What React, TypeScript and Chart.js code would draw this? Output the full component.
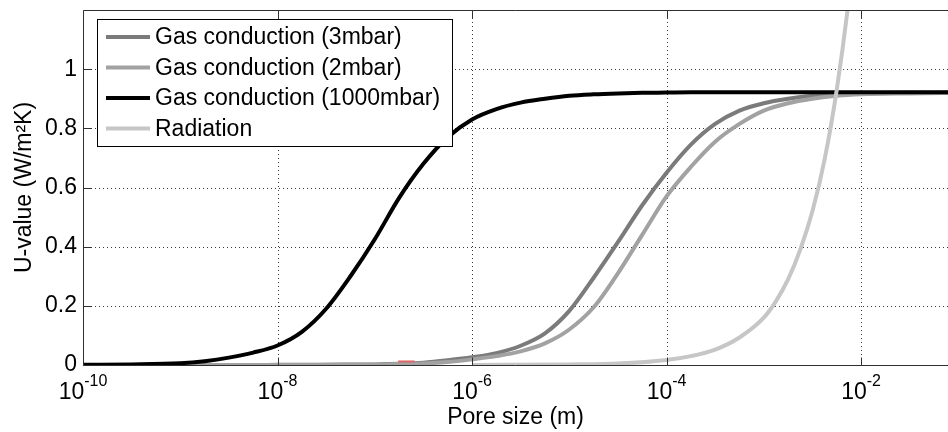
import React, { useEffect, useRef } from 'react';
import { Chart, registerables } from 'chart.js';

Chart.register(...registerables);

// ---- data ----
const poreSizes = [
  1e-10, 3.16e-10, 1e-9, 1.78e-9, 3.16e-9, 5.62e-9,
  1e-8, 1.78e-8, 3.16e-8, 5.62e-8,
  1e-7, 1.78e-7, 3.16e-7, 5.62e-7,
  1e-6, 1.78e-6, 3.16e-6, 5.62e-6,
  1e-5, 1.78e-5, 3.16e-5, 5.62e-5,
  1e-4, 1.78e-4, 3.16e-4, 5.62e-4,
  1e-3, 1.78e-3, 3.16e-3, 5.62e-3,
  1e-2, 3.16e-2, 1e-1,
];
const gas3mbar = [
  0, 0, 0, 0, 0, 0,
  0.0005, 0.0007, 0.001, 0.0015,
  0.002, 0.004, 0.008, 0.016,
  0.026, 0.04, 0.065, 0.107,
  0.183, 0.295, 0.415, 0.54,
  0.65, 0.745, 0.815, 0.86,
  0.885, 0.9, 0.91, 0.915,
  0.918, 0.92, 0.92,
];
const gas2mbar = [
  0, 0, 0, 0, 0, 0,
  0, 0, 0.0005, 0.0008,
  0.001, 0.003, 0.005, 0.01,
  0.019, 0.03, 0.046, 0.073,
  0.12, 0.195, 0.31, 0.44,
  0.57, 0.67, 0.755, 0.815,
  0.86, 0.885, 0.9, 0.91,
  0.915, 0.918, 0.92,
];
const gas1000mbar = [
  0.001, 0.002, 0.006, 0.013, 0.025, 0.042,
  0.066, 0.112, 0.19, 0.3,
  0.425, 0.565, 0.68, 0.77,
  0.83, 0.865, 0.887, 0.9,
  0.91, 0.915, 0.918, 0.92,
  0.921, 0.922, 0.922, 0.922,
  0.922, 0.922, 0.922, 0.922,
  0.922, 0.922, 0.922,
];
const radiationPoreSizes = [
  1e-6, 1e-5, 3.16e-5, 1e-4, 1.78e-4, 3.16e-4, 5.62e-4,
  1e-3, 1.33e-3, 1.78e-3, 2.37e-3, 3.16e-3, 4.22e-3, 5.62e-3, 7.5e-3, 1e-2,
];
const radiation = [
  0.0002, 0.002, 0.005, 0.017, 0.03, 0.052, 0.093,
  0.16, 0.215, 0.29, 0.39, 0.52, 0.695, 0.93, 1.24, 1.65,
];
const residualPoreSizes = [1.74e-7, 2.57e-7];
const residual = [0.012, 0.012];

const xTickValues = [1e-10, 1e-8, 1e-6, 1e-4, 1e-2];
const yTickValues = [0, 0.2, 0.4, 0.6, 0.8, 1];
const xMin = 1e-10;
const xMax = 0.0783;
const yMin = 0;
const yMax = 1.2;

const seriesLabels = [
  'Gas conduction (3mbar)',
  'Gas conduction (2mbar)',
  'Gas conduction (1000mbar)',
  'Radiation',
];
const seriesColors = ['#7b7b7b', '#a2a2a2', '#000000', '#c6c6c6'];

const FONT = "'Liberation Sans', Arial, Helvetica, sans-serif";

function toPoints(xs: number[], ys: number[]) {
  return xs.map((x, i) => ({ x, y: ys[i] }));
}

const framePlugin = {
  id: 'matlabFrame',
  beforeDatasetsDraw(chart: any) {
    const { ctx, chartArea } = chart;
    const xs = chart.scales.x;
    const ys = chart.scales.y;
    ctx.save();
    ctx.strokeStyle = '#3a3a3a';
    ctx.lineWidth = 1;
    ctx.setLineDash([1, 3]);
    for (const v of yTickValues) {
      if (v === yMin) continue;
      const py = Math.round(ys.getPixelForValue(v)) + 0.5;
      ctx.beginPath();
      ctx.moveTo(chartArea.left, py);
      ctx.lineTo(chartArea.right, py);
      ctx.stroke();
    }
    for (const v of xTickValues) {
      if (v === xMin) continue;
      const px = Math.round(xs.getPixelForValue(v)) + 0.5;
      ctx.beginPath();
      ctx.moveTo(px, chartArea.top);
      ctx.lineTo(px, chartArea.bottom);
      ctx.stroke();
    }
    ctx.restore();
  },
  afterDraw(chart: any) {
    const { ctx, chartArea } = chart;
    const xs = chart.scales.x;
    const ys = chart.scales.y;
    const L = Math.round(chartArea.left) + 0.5;
    const T = Math.round(chartArea.top) + 0.5;
    const B = Math.round(chartArea.bottom) + 0.5;
    const R = chartArea.right;
    ctx.save();
    ctx.setLineDash([]);
    ctx.strokeStyle = '#303030';
    ctx.lineWidth = 1;
    // frame
    ctx.beginPath();
    ctx.moveTo(R, T);
    ctx.lineTo(L, T);
    ctx.lineTo(L, B);
    ctx.lineTo(R, B);
    ctx.stroke();
    // inward ticks
    const tl = 8;
    for (const v of yTickValues) {
      const py = Math.round(ys.getPixelForValue(v)) + 0.5;
      ctx.beginPath();
      ctx.moveTo(L, py);
      ctx.lineTo(L + tl, py);
      ctx.stroke();
    }
    for (const v of xTickValues) {
      const px = Math.round(xs.getPixelForValue(v)) + 0.5;
      ctx.beginPath();
      ctx.moveTo(px, B);
      ctx.lineTo(px, B - tl);
      ctx.moveTo(px, T);
      ctx.lineTo(px, T + tl);
      ctx.stroke();
    }
    // x tick labels as 10^n
    ctx.fillStyle = '#000';
    ctx.textBaseline = 'alphabetic';
    ctx.textAlign = 'left';
    for (const v of xTickValues) {
      const px = xs.getPixelForValue(v);
      const exp = String(Math.round(Math.log10(v)));
      ctx.font = `23px ${FONT}`;
      const wBase = ctx.measureText('10').width;
      ctx.font = `16px ${FONT}`;
      const wExp = ctx.measureText(exp).width;
      const start = px - (wBase + wExp) / 2;
      ctx.font = `23px ${FONT}`;
      ctx.fillText('10', start, B + 33);
      ctx.font = `16px ${FONT}`;
      ctx.fillText(exp, start + wBase, B + 20);
    }
    // legend
    const lx = 97.5, ly = 19.5, lw = 355, lh = 127;
    ctx.fillStyle = '#fff';
    ctx.fillRect(lx, ly, lw, lh);
    ctx.strokeStyle = '#000';
    ctx.strokeRect(lx, ly, lw, lh);
    ctx.font = `23px ${FONT}`;
    ctx.textBaseline = 'middle';
    seriesLabels.forEach((label, i) => {
      const cy = 37 + i * 30.5;
      ctx.strokeStyle = seriesColors[i];
      ctx.lineWidth = 4;
      ctx.beginPath();
      ctx.moveTo(106, cy);
      ctx.lineTo(150, cy);
      ctx.stroke();
      ctx.fillStyle = '#000';
      ctx.fillText(label, 155, cy + 1);
    });
    ctx.restore();
  },
};

export default function App() {
  const canvasRef = useRef<HTMLCanvasElement | null>(null);

  useEffect(() => {
    document.body.style.margin = '0';
    const canvas = canvasRef.current;
    if (!canvas) return;
    const chart = new Chart(canvas, {
      type: 'line',
      data: {
        datasets: [
          {
            label: 'residual',
            data: toPoints(residualPoreSizes, residual),
            borderColor: '#e06666',
            borderWidth: 2,
            order: -1,
          },
          {
            label: seriesLabels[3],
            data: toPoints(radiationPoreSizes, radiation),
            borderColor: seriesColors[3],
            borderWidth: 4,
            order: 0,
          },
          {
            label: seriesLabels[2],
            data: toPoints(poreSizes, gas1000mbar),
            borderColor: seriesColors[2],
            borderWidth: 4,
            order: 1,
          },
          {
            label: seriesLabels[1],
            data: toPoints(poreSizes, gas2mbar),
            borderColor: seriesColors[1],
            borderWidth: 4,
            order: 2,
          },
          {
            label: seriesLabels[0],
            data: toPoints(poreSizes, gas3mbar),
            borderColor: seriesColors[0],
            borderWidth: 4,
            order: 3,
          },
        ],
      },
      options: {
        animation: false,
        responsive: false,
        maintainAspectRatio: false,
        layout: { padding: { top: 10, right: 0, bottom: 0, left: 0 } },
        elements: {
          point: { radius: 0, hoverRadius: 0 },
          line: { cubicInterpolationMode: 'monotone', fill: false },
        },
        plugins: {
          legend: { display: false },
          tooltip: { enabled: false },
        },
        scales: {
          x: {
            type: 'logarithmic',
            min: xMin,
            max: xMax,
            grid: { display: false },
            border: { display: false },
            ticks: { display: false },
            afterBuildTicks: (s: any) => {
              s.ticks = xTickValues.map((v) => ({ value: v }));
            },
            afterFit: (s: any) => {
              s.height = 67;
              s.paddingLeft = 0;
              s.paddingRight = 0;
            },
            title: {
              display: true,
              text: 'Pore size (m)',
              color: '#000',
              font: { family: FONT, size: 23 },
              padding: { top: 0, bottom: 1 },
            },
          },
          y: {
            type: 'linear',
            min: yMin,
            max: yMax,
            grid: { display: false, drawTicks: false },
            border: { display: false },
            ticks: {
              color: '#000',
              font: { family: FONT, size: 23 },
              padding: 6,
              callback: (v: any) => String(Math.round(Number(v) * 10) / 10),
            },
            afterBuildTicks: (s: any) => {
              s.ticks = yTickValues.map((v) => ({ value: v }));
            },
            afterFit: (s: any) => {
              s.width = 83;
              s.paddingTop = 0;
              s.paddingBottom = 0;
            },
            title: {
              display: true,
              text: 'U-value (W/m²K)',
              color: '#000',
              font: { family: FONT, size: 23 },
              padding: { top: 11, bottom: 0 },
            },
          },
        },
      },
      plugins: [framePlugin],
    } as any);
    return () => chart.destroy();
  }, []);

  return (
    <canvas
      ref={canvasRef}
      width={948}
      height={432}
      style={{ display: 'block', width: 948, height: 432 }}
    />
  );
}
